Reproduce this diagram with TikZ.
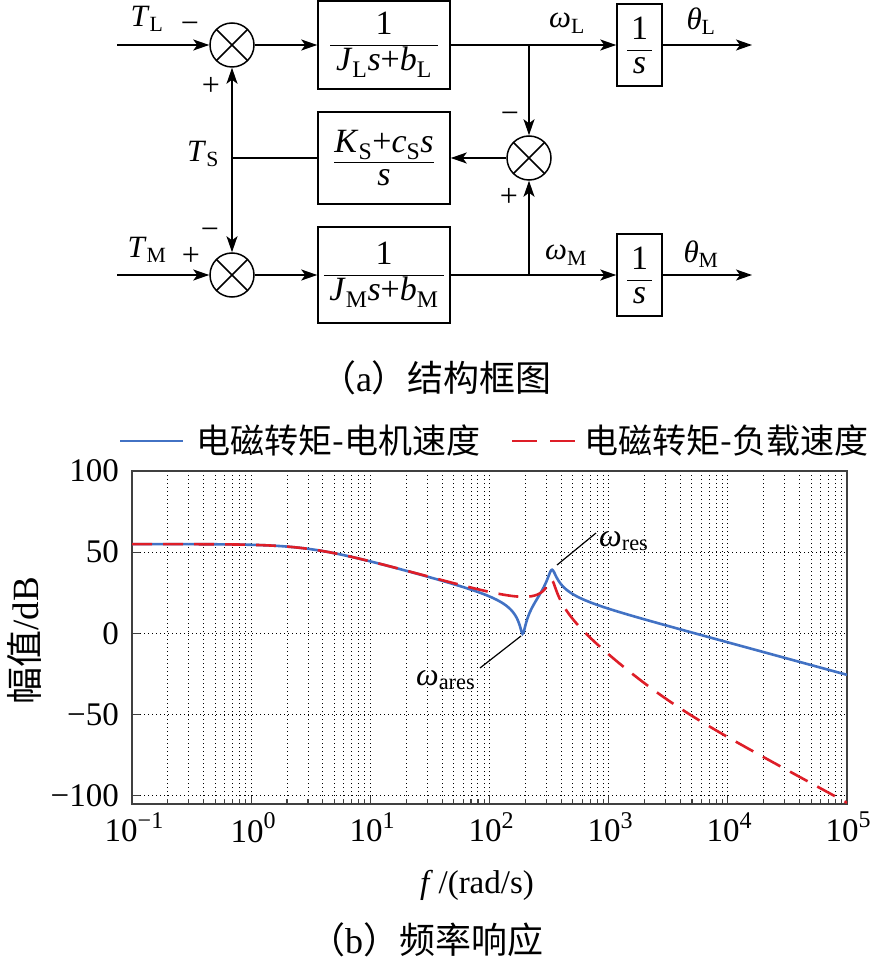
\documentclass[tikz,border=0pt]{standalone}
\usepackage{fontspec}
\setmainfont{Liberation Serif}
\newfontfamily\cjk{Noto Sans CJK SC}
\usepackage{pgfplots}
\pgfplotsset{compat=1.18}
\usetikzlibrary{arrows.meta}
\definecolor{lineblue}{RGB}{66,114,196}
\definecolor{linered}{RGB}{222,30,40}
\newcommand{\vi}[1]{\textit{#1}}
\newcommand{\sbs}[1]{\textsubscript{#1}}
\newcommand{\fr}[2]{$\displaystyle\frac{\mbox{#1}}{\mbox{\,#2\,}}$}
\begin{document}
\begin{tikzpicture}[x=1pt,y=-1pt,
  lbl/.style={inner sep=0pt, font=\fontsize{31}{36}\selectfont},
  pm/.style={inner sep=0pt, font=\fontsize{32}{34}\selectfont},
  tlab/.style={inner sep=0pt, font=\fontsize{33}{36}\selectfont},
  cjklbl/.style={inner sep=0pt, font=\cjk\fontsize{34}{38}\selectfont},
  blk/.style={draw, line width=1.5pt, minimum width=132pt, inner sep=0pt, font=\fontsize{34}{38}\selectfont},
  intb/.style={draw, line width=1.5pt, minimum width=45pt, minimum height=82pt, inner sep=0pt, font=\fontsize{34}{38}\selectfont},
  sumc/.style={circle, draw, line width=1.5pt, minimum size=44pt, inner sep=0pt,
    path picture={\draw[line width=1.5pt] (path picture bounding box.north west) -- (path picture bounding box.south east)
      (path picture bounding box.north east) -- (path picture bounding box.south west);}},
  sig/.style={line width=1.5pt},
  arr/.style={sig, -{Stealth[length=16pt,width=11pt,inset=4pt]}},
  bluecurve/.style={lineblue, line width=2.6pt},
  redcurve/.style={linered, line width=2.6pt, dash pattern=on 20pt off 11pt},
  annot/.style={line width=1.2pt, black},
  anlab/.style={inner sep=0pt, font=\fontsize{32}{34}\selectfont},
]
\useasboundingbox (0,0) rectangle (871,965);

% ---------- block diagram ----------
\node[blk, minimum height=88pt] (b1) at (384,45) {\fr{1}{\vi{J}\sbs{L}\vi{s}+\vi{b}\sbs{L}}};
\node[blk, minimum height=92pt] (b2) at (384,158) {\fr{\vi{K}\sbs{S}+\vi{c}\sbs{S}\vi{s}}{\vi{s}}};
\node[blk, minimum height=96pt] (b3) at (384,275) {\fr{1}{\vi{J}\sbs{M}\vi{s}+\vi{b}\sbs{M}}};
\node[intb] (i1) at (639.5,45) {\fr{1}{\vi{s}}};
\node[intb] (i2) at (639.5,275) {\fr{1}{\vi{s}}};
\node[sumc] (s1) at (232,45) {};
\node[sumc] (s2) at (232,275) {};
\node[sumc] (s3) at (529,158) {};

\coordinate (inL) at (117,45);
\coordinate (outL) at (752,45);
\coordinate (inM) at (117,275);
\coordinate (outM) at (752,275);
\coordinate (brL) at (529,45);
\coordinate (brM) at (529,275);
\coordinate (brS) at (232,158);

\draw[arr] (inL) -- (s1);
\draw[arr] (s1) -- (b1);
\draw[arr] (b1) -- (i1);
\draw[arr] (i1) -- (outL);
\draw[arr] (brL) -- (s3);
\draw[arr] (s3) -- (b2);
\draw[sig] (b2) -- (brS);
\draw[arr] (brS) -- (s1);
\draw[arr] (brS) -- (s2);
\draw[arr] (inM) -- (s2);
\draw[arr] (s2) -- (b3);
\draw[arr] (b3) -- (i2);
\draw[arr] (brM) -- (s3);
\draw[arr] (i2) -- (outM);

\node[lbl] (tL) at (147,19) {\vi{T}\sbs{L}};
\node[pm] (mTL) at (190,28) {−};
\node[pm] (pTS1) at (211,86) {+};
\node[lbl] (tS) at (203,154) {\vi{T}\sbs{S}};
\node[lbl] (tM) at (147,250) {\vi{T}\sbs{M}};
\node[pm] (pTM) at (191,256) {+};
\node[pm] (mTS2) at (210,234) {−};
\node[lbl] (wL) at (567,23) {\vi{ω}\sbs{L}};
\node[lbl] (thL) at (701,21) {\vi{θ}\sbs{L}};
\node[pm] (mWL) at (510,118) {−};
\node[pm] (pWM) at (509,197) {+};
\node[lbl] (wM) at (566,255) {\vi{ω}\sbs{M}};
\node[lbl] (thM) at (701,254) {\vi{θ}\sbs{M}};

\node[cjklbl, font=\cjk\fontsize{36}{40}\selectfont] (capA) at (436,378) {（\rmfamily a\cjk ）结构框图};

% ---------- legend ----------
\coordinate (lgA) at (120,441);
\coordinate (lgB) at (183,441);
\coordinate (lgC) at (512,441);
\coordinate (lgD) at (577,441);
\draw[bluecurve] (lgA) -- (lgB);
\node[cjklbl, anchor=west] (lgt1) at (196,441) {电磁转矩-电机速度};
\draw[linered, line width=2.6pt, dash pattern=on 25pt off 13pt] (lgC) -- (lgD);
\node[cjklbl, anchor=west] (lgt2) at (584,441) {电磁转矩-负载速度};

% ---------- plot ----------
\begin{axis}[
  at={(132pt,-804pt)}, anchor=south west,
  width=715pt, height=333pt, scale only axis,
  xmode=log, xmin=0.1, xmax=1e5, ymin=-105, ymax=100,
  xtick={0.1,1,10,100,1000,10000,100000},
  ytick={-100,-50,0,50,100},
  xticklabel=\empty, yticklabel=\empty,
  minor y tick num=0,
  tick pos=left, tick align=inside,
  major tick length=8pt, minor tick length=5pt,
  xmajorgrids, xminorgrids, ymajorgrids,
  major grid style={black, line width=1pt, dash pattern=on 1.3pt off 2.7pt},
  minor grid style={black, line width=1pt, dash pattern=on 1.3pt off 2.7pt},
  axis line style={line width=1.6pt, black!75},
  every tick/.style={black!75, line width=1.1pt},
  declare function={
    nmr(\u)=14.1-3.9*\u*\u;
    nmi(\u)=0.5389*\u;
    fdr(\u)=0.02507-0.031148*\u*\u;
    fdi(\u)=\u*(0.81588-0.07332*\u*\u);
    magm(\u)=4.3429448*(ln(nmr(\u)*nmr(\u)+nmi(\u)*nmi(\u))-ln(fdr(\u)*fdr(\u)+fdi(\u)*fdi(\u)));
    magl(\u)=4.3429448*(ln(198.81+0.2025*\u*\u)-ln(fdr(\u)*fdr(\u)+fdi(\u)*fdi(\u)));
  },
]
\addplot[bluecurve, samples=801, domain=-1:5, variable=\t] ({10^\t},{magm(10^(\t-2))});
\addplot[redcurve, samples=801, domain=-1:5, variable=\t] ({10^\t},{magl(10^(\t-2))});
\end{axis}

% tick labels
\node[tlab, anchor=east] (y100) at (119,471) {100};
\node[tlab, anchor=east] (y50) at (119,552) {50};
\node[tlab, anchor=east] (y0) at (119,633.5) {0};
\node[tlab, anchor=east] (ym50) at (119,715) {−50};
\node[tlab, anchor=east] (ym100) at (119,796) {−100};
\node[tlab, anchor=north] (xm1) at (134,812) {10\raisebox{0.42em}{\fontsize{24}{26}\selectfont −1}};
\node[tlab, anchor=north] (x0) at (253,812) {10\raisebox{0.42em}{\fontsize{24}{26}\selectfont 0}};
\node[tlab, anchor=north] (x1) at (372,812) {10\raisebox{0.42em}{\fontsize{24}{26}\selectfont 1}};
\node[tlab, anchor=north] (x2) at (491,812) {10\raisebox{0.42em}{\fontsize{24}{26}\selectfont 2}};
\node[tlab, anchor=north] (x3) at (610,812) {10\raisebox{0.42em}{\fontsize{24}{26}\selectfont 3}};
\node[tlab, anchor=north] (x4) at (729,812) {10\raisebox{0.42em}{\fontsize{24}{26}\selectfont 4}};
\node[tlab, anchor=north] (x5) at (848,812) {10\raisebox{0.42em}{\fontsize{24}{26}\selectfont 5}};
\node[tlab] (xlab) at (477,885) {\vi{f}\,/(rad/s)};
\node[tlab, font=\fontsize{37}{40}\selectfont, rotate=90] (ylab) at (24,641) {{\cjk 幅值}/dB};

% annotations
\node[anlab, anchor=west] (wres) at (599,541) {\vi{ω}\sbs{res}};
\coordinate (resA) at (557,565);
\coordinate (resB) at (596,533);
\draw[annot] (resA) -- (resB);
\node[anlab, anchor=west] (wares) at (416,680) {\vi{ω}\sbs{ares}};
\coordinate (aresA) at (521,636);
\coordinate (aresB) at (480,668);
\draw[annot] (aresA) -- (aresB);

\node[cjklbl, font=\cjk\fontsize{36}{40}\selectfont] (capB) at (426,940) {（\rmfamily b\cjk ）频率响应};
\end{tikzpicture}
\end{document}
